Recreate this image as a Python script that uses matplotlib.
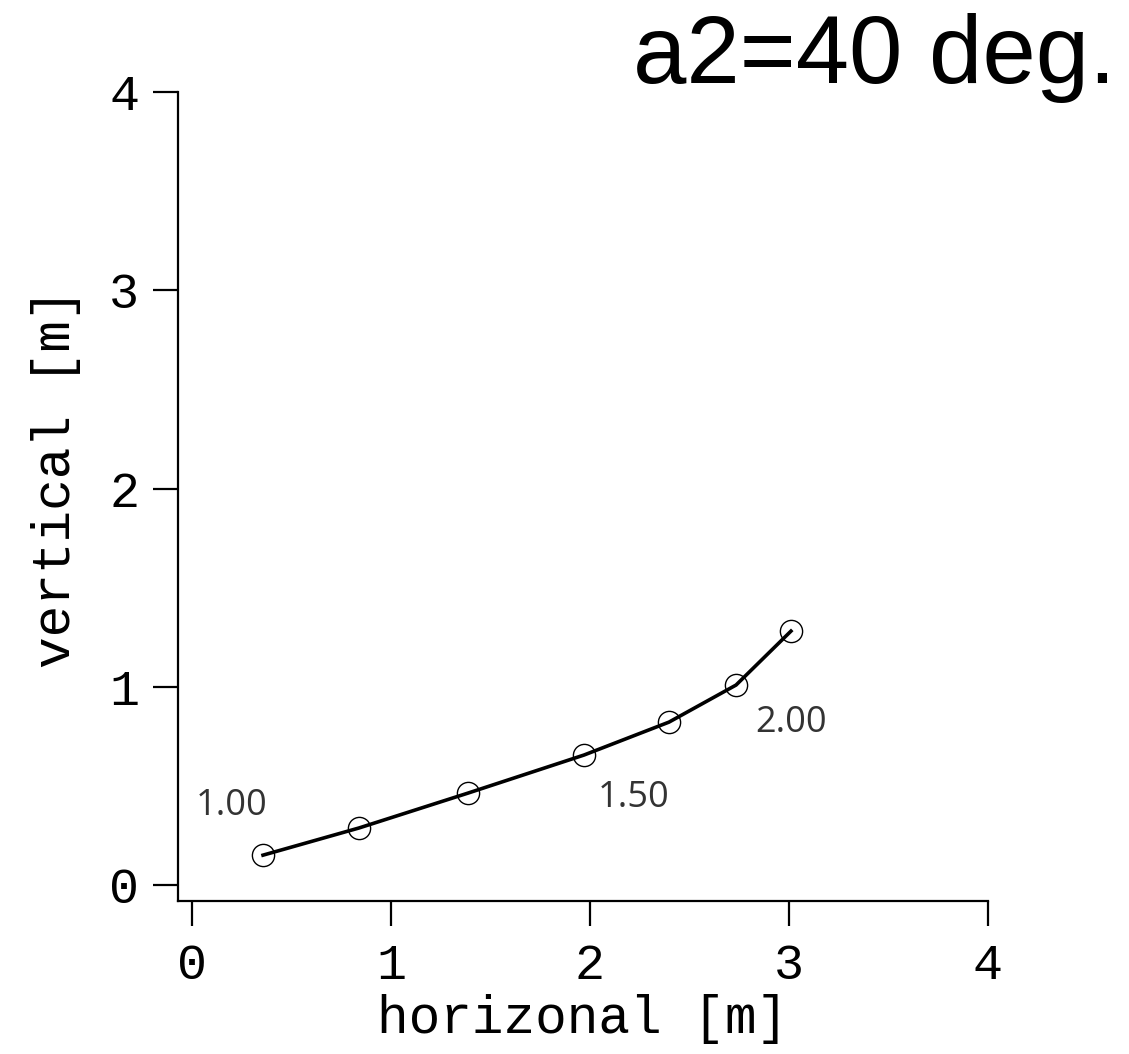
import matplotlib
matplotlib.use("Agg")
import matplotlib.pyplot as plt

# trajectory points
horizontal = [0.357, 0.839, 1.387, 1.970, 2.397, 2.734, 3.010]
vertical = [0.151, 0.288, 0.464, 0.656, 0.822, 1.009, 1.281]

# parameter labels next to the curve
label_text = ["1.00", "1.50", "2.00"]
label_x = [0.02, 2.04, 2.83]
label_y = [0.40, 0.44, 0.82]

ticks = [0, 1, 2, 3, 4]
title = "a2=40 deg."

mono = "Liberation Mono"

fig = plt.figure(figsize=(11.29, 10.54), dpi=100)
ax = fig.add_axes([0.1577, 0.1452, 0.7174, 0.7675])

ax.plot(horizontal, vertical, color="black", lw=2.6, zorder=2)
ax.plot(horizontal, vertical, linestyle="none", marker="o", ms=16,
        mfc="none", mec="black", mew=1.0, zorder=3)

for t, x, y in zip(label_text, label_x, label_y):
    ax.text(x, y, t, fontsize=26, family="Open Sans",
            ha="left", va="center", color="#333333")

ax.set_xlim(-0.07, 4)
ax.set_ylim(-0.08, 4)
ax.set_xticks(ticks)
ax.set_yticks(ticks)
ax.set_xticklabels([str(t) for t in ticks], family=mono, fontsize=36)
ax.set_yticklabels([str(t) for t in ticks], family=mono, fontsize=36)
ax.tick_params(direction="out", length=18, width=1.6)
ax.tick_params(axis="y", pad=10)
ax.tick_params(axis="x", pad=12)

for side in ["top", "right"]:
    ax.spines[side].set_visible(False)
for side in ["left", "bottom"]:
    ax.spines[side].set_linewidth(1.6)

ax.set_xlabel("horizonal [m]", family=mono, fontsize=38, labelpad=4)
ax.set_ylabel("vertical [m]", family=mono, fontsize=38)
ax.yaxis.set_label_coords(-0.12, 0.523)

fig.text(0.988, 0.988, title, family="Liberation Sans", fontsize=69,
         ha="right", va="top")

fig.savefig("out.png", dpi=100)
